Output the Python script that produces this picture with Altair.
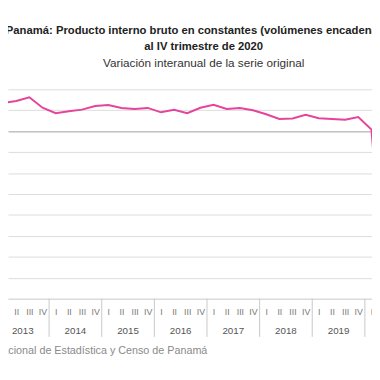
import altair as alt
import pandas as pd

# ---- data ----
years = [2013, 2014, 2015, 2016, 2017, 2018, 2019, 2020]
quarters = ["I", "II", "III", "IV"]
growth = [
    6.7, 7.2, 8.1, 5.6,      # 2013
    4.3, 4.75, 5.15, 6.0,    # 2014
    6.25, 5.55, 5.3, 5.55,   # 2015
    4.5, 5.1, 4.3, 5.6,      # 2016
    6.3, 5.3, 5.55, 5.0,     # 2017
    4.05, 2.9, 3.05, 3.9,    # 2018
    3.1, 2.9, 2.75, 3.35,    # 2019
    0.4, -38.4, -23.6, -10.8 # 2020
]
y_ticks = list(range(-40, 11, 5))

title_lines = ["Panamá: Producto interno bruto en constantes (volúmenes encadenados)",
               "al IV trimestre de 2020"]
subtitle = "Variación interanual de la serie original"
source = "Fuente: Instituto Nacional de Estadística y Censo de Panamá"

# ---- tables ----
df = pd.DataFrame({
    "idx": list(range(len(growth))),
    "year": [years[i // 4] for i in range(len(growth))],
    "quarter": [quarters[i % 4] for i in range(len(growth))],
    "value": growth,
})
year_df = pd.DataFrame({"year": [str(y) for y in years],
                        "mid": [4 * k + 1.5 for k in range(len(years))]})
sep_df = pd.DataFrame({"pos": [4 * k + 3.5 for k in range(len(years))]})
src_df = pd.DataFrame({"t": [source]})

W, H = 372, 214
xdom = [0.376, 28.042]
xscale = alt.Scale(domain=xdom, nice=False, zero=False)
yscale = alt.Scale(domain=[-40, 10], nice=False, zero=False)

xaxis = alt.Axis(values=list(range(1, len(growth))), title=None,
                 labelExpr="['I','II','III','IV'][datum.value % 4]",
                 ticks=False, tickSize=0, domain=True, domainColor="#d6d6d6",
                 domainWidth=1, grid=False,
                 labelFlush=False, labelOverlap=False,
                 labelBaseline="middle", labelPadding=13,
                 labelFont="Liberation Sans", labelFontSize=9,
                 labelColor="#777777")
yaxis = alt.Axis(values=y_ticks, title=None, labels=False, ticks=False,
                 domain=False, grid=True,
                 gridColor={"expr": "datum.value === 0 ? '#a0a0a0' : '#dcdcdc'"},
                 gridWidth=1)

line = alt.Chart(df).mark_line(color="#E6449B", strokeWidth=2, clip=True).encode(
    x=alt.X("idx:Q", scale=xscale, axis=xaxis),
    y=alt.Y("value:Q", scale=yscale, axis=yaxis),
)

seps = alt.Chart(sep_df).mark_rule(color="#c8c8c8", strokeWidth=1).encode(
    x=alt.X("pos:Q", scale=xscale, axis=xaxis),
    y=alt.value(H), y2=alt.value(H + 39),
)

year_text = alt.Chart(year_df).mark_text(
    font="Liberation Sans", fontSize=10, color="#555555", baseline="middle"
).encode(
    x=alt.X("mid:Q", scale=xscale, axis=xaxis),
    y=alt.value(H + 33),
    text="year:N",
)

src_text = alt.Chart(src_df).mark_text(
    font="Liberation Sans", fontSize=11, color="#8a8a8a", align="right",
    baseline="middle"
).encode(
    x=alt.value(203.7), y=alt.value(H + 54), text="t:N"
)

chart = alt.layer(line, seps, year_text, src_text).properties(
    width=W, height=H,
    title=alt.TitleParams(
        text=title_lines, subtitle=subtitle, anchor="middle", dx=14,
        font="Liberation Sans", fontSize=11.5, fontWeight="bold", color="#222222",
        lineHeight=16, subtitleFont="Liberation Sans", subtitleFontSize=12,
        subtitleColor="#333333", subtitlePadding=6, offset=21,
    ),
    autosize=alt.AutoSizeParams(type="none"),
    padding={"left": 0, "top": 79, "right": 0, "bottom": 79},
).configure_view(stroke=None)

chart.save("out.html", embed_options={"renderer": "svg", "actions": False})
